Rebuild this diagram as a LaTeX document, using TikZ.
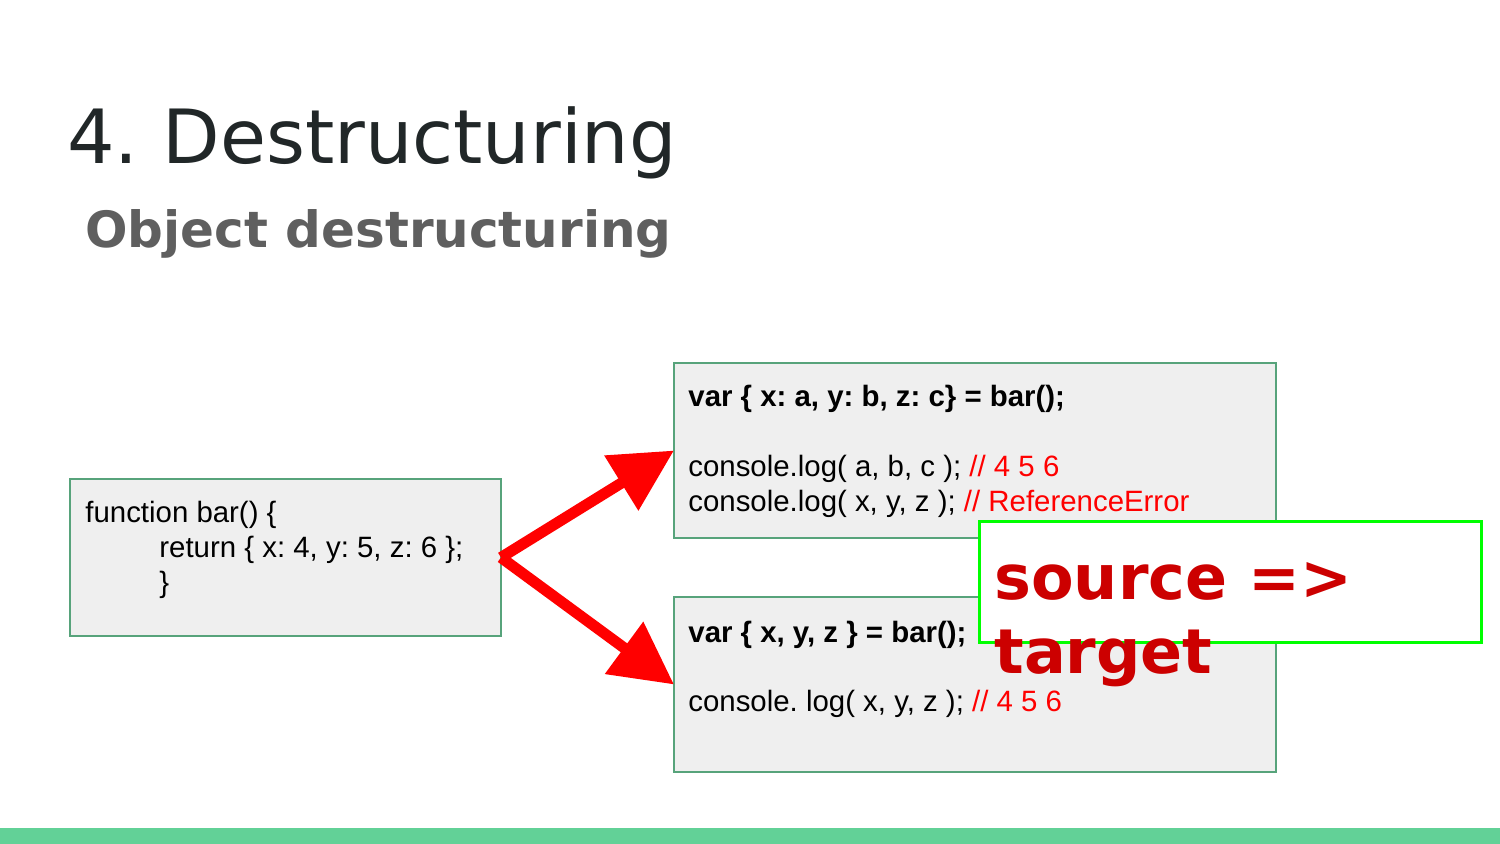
\documentclass[tikz,border=0pt]{standalone}
\usepackage{fontspec}
\setmainfont{Liberation Sans}
\newfontfamily\djv{DejaVu Sans}
\usetikzlibrary{arrows.meta}
\definecolor{titlecol}{RGB}{33,39,40}
\definecolor{subcol}{RGB}{95,95,95}
\definecolor{boxfill}{RGB}{239,239,239}
\definecolor{boxline}{RGB}{87,163,123}
\definecolor{srcred}{RGB}{204,0,0}
\definecolor{barcol}{RGB}{98,209,151}
\definecolor{gbox}{RGB}{0,255,0}
\frenchspacing
\begin{document}
\begin{tikzpicture}[x=0.5pt,y=-0.5pt,
  codebox/.style={draw=boxline, line width=0.75pt, fill=boxfill, anchor=north west, inner sep=0pt, outer sep=0pt},
  code/.style={anchor=base west, inner sep=0pt, font=\fontsize{14.7pt}{17.5pt}\selectfont},
  boldcode/.style={code, font=\fontsize{14.7pt}{17.5pt}\selectfont\bfseries},
  redarrow/.style={draw=red, line width=5.5pt, -{Triangle[length=31pt,width=31pt]}},
  bigred/.style={anchor=base west, inner sep=0pt, text=srcred, font=\djv\bfseries\fontsize{31pt}{36pt}\selectfont}]
\useasboundingbox (0,0) rectangle (1500,844);
\fill[white] (0,0) rectangle (1500,844);
\fill[barcol] (0,828) rectangle (1500,844);

\node[anchor=base west, inner sep=0pt, text=titlecol, font=\djv\fontsize{37.4pt}{44pt}\selectfont] (title) at (67,164) {4. Destructuring};
\node[anchor=base west, inner sep=0pt, text=subcol, font=\djv\bfseries\fontsize{25pt}{30pt}\selectfont] (subtitle) at (85,248) {Object destructuring};

\node[codebox, minimum width=215.5pt, minimum height=78.5pt] (b1) at (70,479) {};
\node[codebox, minimum width=301pt, minimum height=87.5pt] (b2) at (674,363) {};
\node[codebox, minimum width=301pt, minimum height=87.5pt] (b3) at (674,597) {};

\node[code] (f1) at (85,523) {function bar() \{};
\node[code] (f2) at (159,558) {return \{ x: 4, y: 5, z: 6 \};};
\node[code] (f3) at (159,593) {\}};

\node[boldcode] (a1) at (688,407) {var \{ x: a, y: b, z: c\} = bar();};
\node[code] (a2) at (688,477) {console.log( a, b, c ); \textcolor{red}{// 4 5 6}};
\node[code] (a3) at (688,512) {console.log( x, y, z ); \textcolor{red}{// ReferenceError}};

\node[boldcode] (c1) at (688,642) {var \{ x, y, z \} = bar();};
\node[code] (c2) at (688,711) {console. log( x, y, z ); \textcolor{red}{// 4 5 6}};

\draw[redarrow] (b1.east) -- (b2.west);
\draw[redarrow] (b1.east) -- (b3.west);

\node[draw=gbox, line width=1.35pt, fill=white, anchor=north west, inner sep=0pt, outer sep=0pt, minimum width=250.8pt, minimum height=60.7pt] (g) at (979.7,521.3) {};
\node[bigred] (s1) at (994,599.5) {source =>};
\node[bigred] (s2) at (994,673) {target};
\end{tikzpicture}
\end{document}
